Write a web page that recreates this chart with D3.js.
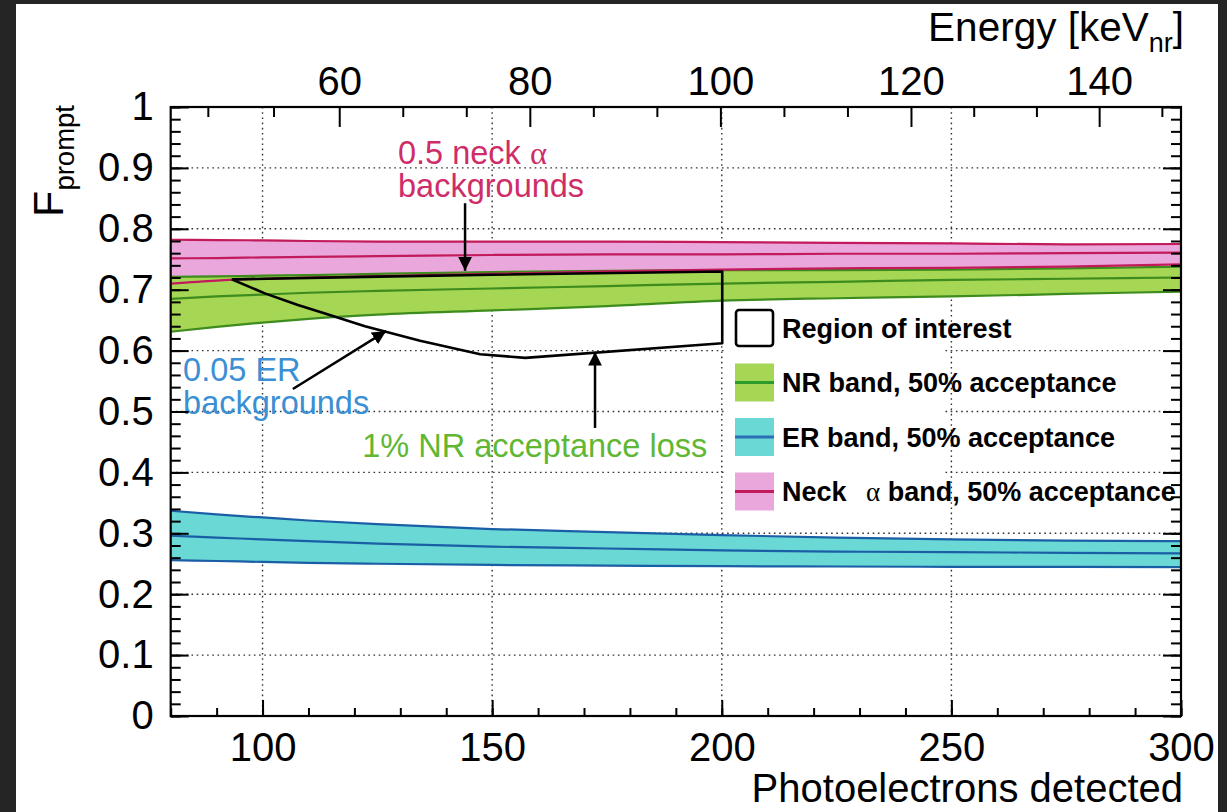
<!DOCTYPE html>
<html><head><meta charset="utf-8">
<script src="https://cdn.jsdelivr.net/npm/d3@7"></script>
<style>
html,body{margin:0;padding:0;background:#262626;}
svg{display:block;}
text{font-family:"Liberation Sans",Arial,Helvetica,sans-serif;}
</style></head><body>
<svg id="c" width="1227" height="812"></svg>
<script>
// ---------- data ----------
const pe       = [80,    90,    100,   110,   125,   150,   175,   200,   225,   250,   275,   300];
const erHigh   = [0.337, 0.331, 0.326, 0.321, 0.315, 0.307, 0.302, 0.297, 0.293, 0.290, 0.288, 0.287];
const erMid    = [0.296, 0.293, 0.290, 0.287, 0.283, 0.278, 0.275, 0.272, 0.270, 0.269, 0.268, 0.267];
const erLow    = [0.256, 0.2545,0.253, 0.2515,0.250, 0.248, 0.247, 0.246, 0.2455,0.245, 0.245, 0.2445];
const nrHigh   = [0.721, 0.722, 0.723, 0.724, 0.726, 0.729, 0.731, 0.732, 0.732, 0.733, 0.735, 0.738];
const nrMid    = [0.685, 0.689, 0.692, 0.695, 0.698, 0.702, 0.706, 0.710, 0.713, 0.716, 0.718, 0.720];
const nrLow    = [0.631, 0.639, 0.646, 0.652, 0.659, 0.666, 0.673, 0.682, 0.686, 0.689, 0.693, 0.697];
const neckHigh = [0.782, 0.7815,0.781, 0.780, 0.779, 0.779, 0.779, 0.778, 0.777, 0.776, 0.7745,0.775];
const neckMid  = [0.7515,0.752, 0.753, 0.754, 0.755, 0.757, 0.758, 0.758, 0.759, 0.759, 0.760, 0.761];
const neckLow  = [0.710, 0.715, 0.718, 0.720, 0.7225,0.726, 0.730, 0.733, 0.735, 0.736, 0.738, 0.7415];

// region of interest polygon (PE, Fprompt)
const roiPE = [93.3, 100.5, 107.7, 113.6, 122.3, 134.3, 147.4, 157.2, 200.1, 200.1, 150, 122.3, 93.3];
const roiF  = [0.717,0.694, 0.675, 0.661, 0.640, 0.616, 0.594, 0.588, 0.612, 0.730, 0.7245,0.721, 0.717];

// energy axis calibration (keVnr -> PE)
const calibKeV = [42.9, 60, 120, 148.7];
const calibPE  = [80, 116.7, 241.2, 300];

const xMajor = [100, 150, 200, 250, 300];
const yMajor = [0, 0.1, 0.2, 0.3, 0.4, 0.5, 0.6, 0.7, 0.8, 0.9, 1];
const eMajor = [60, 80, 100, 120, 140];

// ---------- layout ----------
const W = 1227, H = 812;
const L = 170.7, R = 1181, T = 107, B = 716;
const svg = d3.select('#c');
svg.append('rect').attr('width', W).attr('height', H).attr('fill', '#252525');
svg.append('rect').attr('x', 16).attr('y', 4).attr('width', 1202).attr('height', 808).attr('fill', '#fff');

const x = d3.scaleLinear().domain([80, 300]).range([L, R]);
const y = d3.scaleLinear().domain([0, 1]).range([B, T]);
const xE = d3.scaleLinear().domain(calibKeV).range(calibPE.map(v => x(v)));

// gridlines
const grid = svg.append('g').attr('stroke', '#333').attr('stroke-width', 1.4).attr('stroke-dasharray', '1.6,3.6');
xMajor.filter(v => v < 300).forEach(v => grid.append('line').attr('x1', x(v)).attr('x2', x(v)).attr('y1', T).attr('y2', B));
yMajor.filter(v => v > 0 && v < 1).forEach(v => grid.append('line').attr('x1', L).attr('x2', R).attr('y1', y(v)).attr('y2', y(v)));

// bands
const rows = pe.map((p, i) => ({p, i}));
const area = (lo, hi) => d3.area().x(d => x(d.p)).y0(d => y(lo[d.i])).y1(d => y(hi[d.i])).curve(d3.curveMonotoneX);
const line = arr => d3.line().x(d => x(d.p)).y(d => y(arr[d.i])).curve(d3.curveMonotoneX);

const NECK_FILL = '#eaa7dc', NECK_LINE = '#c21a5a';
const NR_FILL = '#a5d654', NR_LINE = '#3d8c1d';
const ER_FILL = '#6ad8d5', ER_LINE = '#1a5ea6';

svg.append('path').datum(rows).attr('d', area(neckLow, neckHigh)).attr('fill', NECK_FILL);
svg.append('path').datum(rows).attr('d', area(nrLow, nrHigh)).attr('fill', NR_FILL);
svg.append('path').datum(rows).attr('d', area(erLow, erHigh)).attr('fill', ER_FILL);

[[nrHigh, NR_LINE], [nrMid, NR_LINE], [nrLow, NR_LINE],
 [neckHigh, NECK_LINE], [neckMid, NECK_LINE], [neckLow, NECK_LINE],
 [erHigh, ER_LINE], [erMid, ER_LINE], [erLow, ER_LINE]].forEach(([arr, c]) => {
  svg.append('path').datum(rows).attr('d', line(arr)).attr('fill', 'none').attr('stroke', c).attr('stroke-width', 2.2);
});

// region of interest
svg.append('path')
  .datum(roiPE.map((p, i) => [x(p), y(roiF[i])]))
  .attr('d', d3.line())
  .attr('fill', 'none').attr('stroke', '#000').attr('stroke-width', 2.6).attr('stroke-linejoin', 'round');

// arrows
const defs = svg.append('defs');
defs.append('marker').attr('id', 'ah').attr('viewBox', '0 0 10 10').attr('refX', 10).attr('refY', 5)
  .attr('markerWidth', 5.5).attr('markerHeight', 5.5).attr('markerUnits', 'strokeWidth').attr('orient', 'auto')
  .append('path').attr('d', 'M0,0 L10,5 L0,10 Z').attr('fill', '#000');
const arrows = [
  {fromPE: 144.1, fromF: 0.842, toPE: 144.1, toF: 0.731},
  {fromPE: 106.6, fromF: 0.537, toPE: 126.9, toF: 0.632},
  {fromPE: 172.4, fromF: 0.473, toPE: 172.4, toF: 0.598}
];
arrows.forEach(a => svg.append('line')
  .attr('x1', x(a.fromPE)).attr('y1', y(a.fromF)).attr('x2', x(a.toPE)).attr('y2', y(a.toF))
  .attr('stroke', '#000').attr('stroke-width', 2.5).attr('marker-end', 'url(#ah)'));

// annotation texts
const notes = [
  {pe: 129.5, f: 0.906, c: '#cf2d68', parts: [['0.5 neck ', null], ['α', 'serif']]},
  {pe: 129.5, f: 0.852, c: '#cf2d68', parts: [['backgrounds', null]]},
  {pe: 82.7,  f: 0.550, c: '#3b8fd4', parts: [['0.05 ER', null]]},
  {pe: 82.7,  f: 0.496, c: '#3b8fd4', parts: [['backgrounds', null]]},
  {pe: 121.7, f: 0.425, c: '#5fb734', parts: [['1% NR acceptance loss', null]]}
];
notes.forEach(n => {
  const t = svg.append('text').attr('x', x(n.pe)).attr('y', y(n.f)).attr('fill', n.c).attr('font-size', 32.5);
  n.parts.forEach(([s, f]) => {
    const ts = t.append('tspan').text(s);
    if (f) ts.style('font-family', '"Liberation Serif","DejaVu Serif",serif');
  });
});

// legend
const lg = svg.append('g');
lg.append('rect').attr('x', 727).attr('y', 304).attr('width', 216).attr('height', 214).attr('fill', '#fff');
const legend = [
  {label: 'Region of interest', fill: '#fff', line: null, border: true},
  {label: 'NR band, 50% acceptance', fill: NR_FILL, line: '#2e9a2b'},
  {label: 'ER band, 50% acceptance', fill: ER_FILL, line: '#2a6fb5'},
  {label: 'Neck α band, 50% acceptance', fill: NECK_FILL, line: '#c21a5a'}
];
legend.forEach((d, i) => {
  const cy = 328 + i * 54.5;
  if (d.border) {
    lg.append('rect').attr('x', 736).attr('y', cy - 18).attr('width', 37).attr('height', 36).attr('rx', 3)
      .attr('fill', '#fff').attr('stroke', '#000').attr('stroke-width', 2.6);
  } else {
    lg.append('rect').attr('x', 735).attr('y', cy - 19).attr('width', 39).attr('height', 38).attr('fill', d.fill);
    lg.append('line').attr('x1', 735).attr('x2', 774).attr('y1', cy).attr('y2', cy).attr('stroke', d.line).attr('stroke-width', 3);
  }
  const t = lg.append('text').attr('x', 782).attr('y', cy + 9.5).attr('font-size', 27).attr('font-weight', 'bold').attr('fill', '#000');
  if (d.label.includes('α')) {
    const [a, b] = d.label.split('α');
    t.append('tspan').text(a);
    t.append('tspan').text('α').attr('dx', 12).style('font-family', '"Liberation Serif","DejaVu Serif",serif').attr('font-weight', 'normal');
    t.append('tspan').text(b);
  } else t.text(d.label);
});

// axes
function styleAxis(g) {
  g.select('.domain').remove();
  g.selectAll('line').attr('stroke', '#000').attr('stroke-width', 2);
  g.selectAll('text').attr('fill', '#000').style('font-family', '"Liberation Sans",Arial,sans-serif');
}
const fmt = d => String(+(+d).toFixed(2));
const xMinor = d3.range(80, 301, 10);
const yMinor = d3.range(0, 51).map(i => +(i * 0.02).toFixed(2));

svg.append('g').attr('transform', `translate(0,${B})`)
  .call(d3.axisBottom(x).tickValues(xMinor).tickSize(-8).tickFormat('')).call(styleAxis);
svg.append('g').attr('transform', `translate(0,${B})`)
  .call(d3.axisBottom(x).tickValues(xMajor).tickSize(-16).tickPadding(17).tickFormat(fmt))
  .call(styleAxis).selectAll('text').attr('font-size', 40);

svg.append('g').attr('transform', `translate(${L},0)`)
  .call(d3.axisLeft(y).tickValues(yMinor).tickSize(-10).tickFormat('')).call(styleAxis);
svg.append('g').attr('transform', `translate(${L},0)`)
  .call(d3.axisLeft(y).tickValues(yMajor).tickSize(-18).tickPadding(17).tickFormat(fmt))
  .call(styleAxis).selectAll('text').attr('font-size', 40);

svg.append('g').attr('transform', `translate(${R},0)`)
  .call(d3.axisRight(y).tickValues(yMinor).tickSize(-10).tickFormat('')).call(styleAxis);
svg.append('g').attr('transform', `translate(${R},0)`)
  .call(d3.axisRight(y).tickValues(yMajor).tickSize(-18).tickFormat('')).call(styleAxis);

const eMinor = d3.range(1, 17).map(i => 40 + i * 20 / 3)
  .filter(v => v >= calibKeV[0] && v <= calibKeV[3] && Math.abs((v - 60) / 20 - Math.round((v - 60) / 20)) > 1e-6);
svg.append('g').attr('transform', `translate(0,${T})`)
  .call(d3.axisTop(xE).tickValues(eMinor).tickSize(-10).tickFormat('')).call(styleAxis);
svg.append('g').attr('transform', `translate(0,${T})`)
  .call(d3.axisTop(xE).tickValues(eMajor).tickSize(-20).tickPadding(12).tickFormat(fmt))
  .call(styleAxis).selectAll('text').attr('font-size', 40);

// frame
svg.append('rect').attr('x', L).attr('y', T).attr('width', R - L).attr('height', B - T)
  .attr('fill', 'none').attr('stroke', '#000').attr('stroke-width', 2.2);

// titles
svg.append('text').attr('x', R + 2).attr('y', 802).attr('text-anchor', 'end').attr('font-size', 40).attr('fill', '#000')
  .text('Photoelectrons detected');
const et = svg.append('text').attr('x', 1184).attr('y', 41).attr('text-anchor', 'end').attr('font-size', 40.5).attr('fill', '#000');
et.append('tspan').text('Energy [keV');
et.append('tspan').text('nr').attr('font-size', 27).attr('dy', 11);
et.append('tspan').text(']').attr('dy', -11);

const yt = svg.append('text').attr('transform', 'translate(63,105) rotate(-90)').attr('text-anchor', 'end').attr('font-size', 43).attr('fill', '#000');
yt.append('tspan').text('F');
yt.append('tspan').text('prompt').attr('font-size', 27.5).attr('dy', 11);
</script>
</body></html>
